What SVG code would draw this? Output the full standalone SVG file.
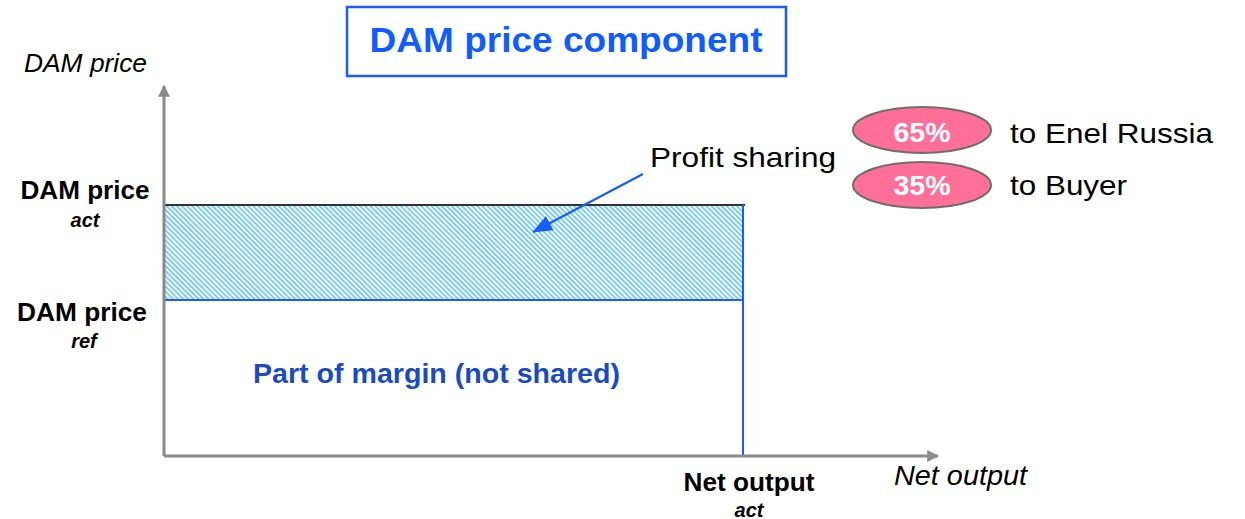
<svg xmlns="http://www.w3.org/2000/svg" width="1245" height="519" viewBox="0 0 1245 519">
<style>
.t{font-family:"Liberation Sans",Arial,sans-serif}
.b{font-weight:bold}
.i{font-style:italic}
.axis{stroke:#8a8a8a;stroke-width:3;fill:none}
.pill{fill:#ff6f9a;stroke:#6e6e6e;stroke-width:2}
.pct{font-family:"Liberation Sans",Arial,sans-serif;font-weight:bold;font-size:27px;fill:#fff;text-anchor:middle}
.lbl{font-family:"Liberation Sans",Arial,sans-serif;font-size:28px;fill:#000}
.yl{font-family:"Liberation Sans",Arial,sans-serif;font-weight:bold;font-size:25px;fill:#000;text-anchor:middle}
.sub{font-family:"Liberation Sans",Arial,sans-serif;font-weight:bold;font-style:italic;font-size:20px;fill:#000;text-anchor:middle}
</style>
<defs>
<pattern id="hatch" width="3.6" height="10" patternUnits="userSpaceOnUse" patternTransform="rotate(-45)">
<rect width="3.6" height="10" fill="#ffffff"/>
<rect width="2" height="10" fill="#80cce8"/>
</pattern>
<marker id="ga" viewBox="0 0 10 10" refX="9" refY="5" markerWidth="4" markerHeight="4" orient="auto" markerUnits="strokeWidth">
<path d="M0,0L10,5L0,10z" fill="#8a8a8a"/>
</marker>
<marker id="bb" viewBox="0 0 20 16" refX="19" refY="8" markerWidth="20" markerHeight="16" orient="auto" markerUnits="userSpaceOnUse">
<path d="M0,0L20,8L0,16z" fill="#1560f0"/>
</marker>
</defs>

<g id="title">
<rect x="347" y="7" width="439" height="69" fill="#fff" stroke="#1a5cff" stroke-width="2.5"/>
<text class="t b" x="566" y="52" font-size="35" fill="#0f5cff" text-anchor="middle" textLength="393" lengthAdjust="spacingAndGlyphs">DAM price component</text>
</g>

<g id="area">
<rect x="165" y="205" width="577" height="95" fill="url(#hatch)"/>
<line x1="165" y1="205" x2="745" y2="205" stroke="#333" stroke-width="2"/>
<line x1="163" y1="300" x2="742" y2="300" stroke="#1a5cff" stroke-width="2"/>
<line x1="743" y1="205" x2="743" y2="455" stroke="#1a5cff" stroke-width="2"/>
</g>

<g id="axes">
<line class="axis" x1="164" y1="456" x2="164" y2="86" marker-end="url(#ga)"/>
<line class="axis" x1="164" y1="456" x2="938" y2="456" marker-end="url(#ga)"/>
</g>

<g id="connectors">
<line x1="643" y1="174" x2="533" y2="232" stroke="#1560f0" stroke-width="2.2" marker-end="url(#bb)"/>
</g>

<g id="axis-labels">
<text class="t i" x="24" y="72" font-size="26" textLength="123" lengthAdjust="spacingAndGlyphs">DAM price</text>
<text class="t i" x="894" y="485" font-size="27" textLength="133" lengthAdjust="spacingAndGlyphs">Net output</text>
</g>

<g id="price-act">
<text class="yl" x="85" y="199" textLength="129" lengthAdjust="spacingAndGlyphs">DAM price</text>
<text class="sub" x="85" y="227">act</text>
</g>
<g id="price-ref">
<text class="yl" x="82" y="321" textLength="130" lengthAdjust="spacingAndGlyphs">DAM price</text>
<text class="sub" x="84" y="348">ref</text>
</g>
<g id="output-act">
<text class="yl" x="749" y="491" textLength="131" lengthAdjust="spacingAndGlyphs">Net output</text>
<text class="sub" x="749" y="517">act</text>
</g>

<g id="margin">
<text class="t b" x="253" y="383" font-size="28" fill="#1a4bc0" textLength="367" lengthAdjust="spacingAndGlyphs">Part of margin (not shared)</text>
</g>

<g id="profit">
<text class="lbl" x="650" y="167" font-size="30" textLength="186" lengthAdjust="spacingAndGlyphs">Profit sharing</text>
</g>

<g id="share-enel">
<ellipse class="pill" cx="922" cy="130" rx="69" ry="23"/>
<text class="pct" x="922" y="142" textLength="57" lengthAdjust="spacingAndGlyphs">65%</text>
<text class="lbl" x="1010" y="143" textLength="203" lengthAdjust="spacingAndGlyphs">to Enel Russia</text>
</g>
<g id="share-buyer">
<ellipse class="pill" cx="922" cy="185" rx="69" ry="23"/>
<text class="pct" x="922" y="195" textLength="57" lengthAdjust="spacingAndGlyphs">35%</text>
<text class="lbl" x="1010" y="195" textLength="117" lengthAdjust="spacingAndGlyphs">to Buyer</text>
</g>
</svg>
